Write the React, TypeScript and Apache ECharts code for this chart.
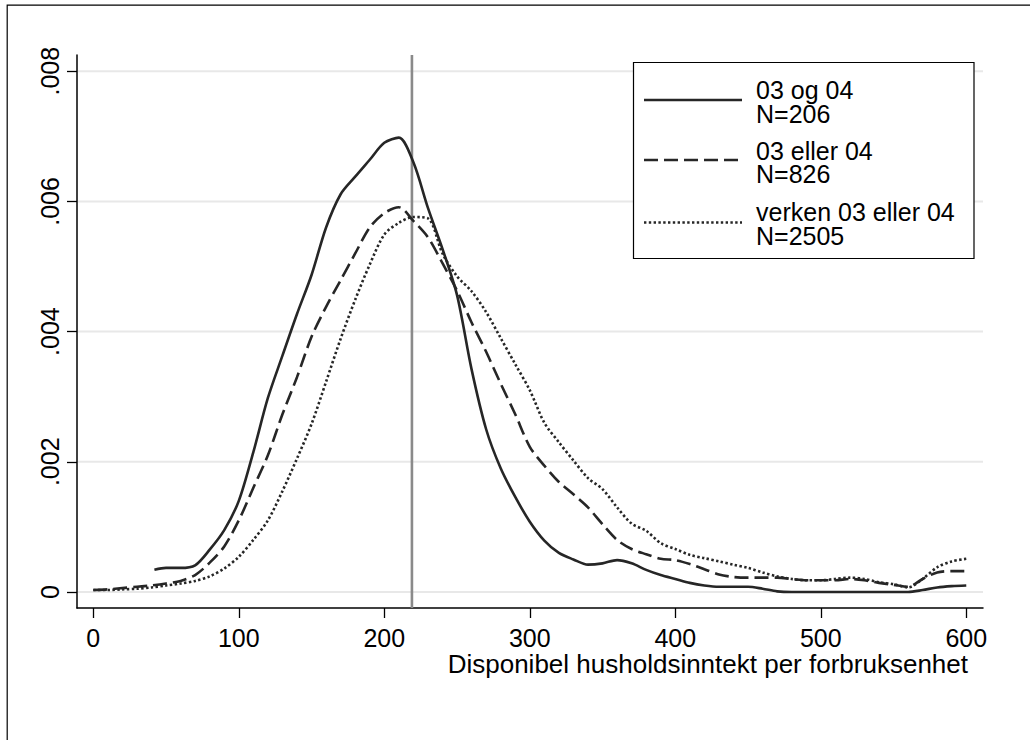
import React, { useEffect, useRef } from "react";
import * as echarts from "echarts";

// ---- data ----
const xGrid = [0,10,20,30,40,50,60,70,80,90,100,110,120,130,140,150,160,170,180,190,200,210,220,230,240,250,260,270,280,290,300,310,320,330,340,350,360,370,380,390,400,410,420,430,440,450,460,470,480,490,500,510,520,530,540,550,560,570,580,590,600];

const solidX = [42,50,60,70,80,90,100,110,120,130,140,150,160,170,180,190,200,210,220,230,240,250,260,270,280,290,300,310,320,330,340,350,360,370,380,390,400,410,420,430,440,450,460,470,480,490,500,510,520,530,540,550,560,570,580,590,600];
const solidY = [0.00034,0.00037,0.00037,0.00041,0.00065,0.00095,0.0014,0.00215,0.00298,0.00363,0.00427,0.00487,0.0056,0.00611,0.00638,0.00664,0.0069,0.00698,0.0066,0.0059,0.00527,0.00456,0.00342,0.0025,0.0019,0.00146,0.00108,0.00079,0.0006,0.0005,0.00042,0.00044,0.00049,0.00044,0.00034,0.00026,0.0002,0.00014,0.0001,0.00008,0.00008,0.00008,0.00005,0.00001,0,0,0,0,0,0,0,0,0,0.00003,0.00007,0.00009,0.0001];

const dashedY = [0.00003,0.00004,0.00006,0.00008,0.0001,0.00013,0.00017,0.00026,0.00045,0.0007,0.0011,0.0016,0.0021,0.00273,0.0033,0.00392,0.00438,0.00479,0.0052,0.0056,0.00582,0.00591,0.0057,0.00545,0.00505,0.00463,0.00414,0.00369,0.0032,0.00273,0.00223,0.00194,0.00169,0.0015,0.0013,0.00104,0.0008,0.00066,0.00058,0.00051,0.00049,0.00043,0.00035,0.00027,0.00023,0.00022,0.00022,0.00022,0.0002,0.00018,0.00018,0.00018,0.0002,0.00018,0.00014,0.00011,0.00008,0.0002,0.0003,0.00032,0.00032];

const dottedY = [0.00003,0.00003,0.00004,0.00005,0.00007,0.0001,0.00013,0.00017,0.00024,0.00036,0.00054,0.0008,0.0011,0.00155,0.00205,0.00258,0.00323,0.00389,0.00449,0.00503,0.00549,0.00567,0.00576,0.00574,0.0052,0.00485,0.00462,0.0043,0.0039,0.0035,0.0031,0.0026,0.0023,0.00202,0.00175,0.00158,0.0013,0.00105,0.00094,0.00075,0.00066,0.00057,0.00052,0.00047,0.00042,0.00037,0.0003,0.00024,0.0002,0.00018,0.00018,0.0002,0.00022,0.0002,0.00015,0.00012,0.00007,0.0002,0.00038,0.00047,0.00051];

const seriesNames = ["03 og 04", "03 eller 04", "verken 03 eller 04"];
const seriesN = ["N=206", "N=826", "N=2505"];
const xTicks = [0, 100, 200, 300, 400, 500, 600];
const yTicks = [0, 0.002, 0.004, 0.006, 0.008];
const refLineX = 219;
const xTitle = "Disponibel husholdsinntekt per forbruksenhet";

const FONT = "'Liberation Sans', Arial, Helvetica, sans-serif";
const INK = "#262626";
const X_MIN = -11.2;
const X_MAX = 611.5;
const Y_MIN = -0.000246;
const Y_MAX = 0.008249;

export default function App() {
  const ref = useRef<HTMLDivElement>(null);
  useEffect(() => {
    if (!ref.current) return;
    const chart = echarts.init(ref.current, null, { renderer: "svg" });
    const pairs = (xs: number[], ys: number[]) => xs.map((x, i) => [x, ys[i]]);
    const lineTypes: any[] = ["solid", [14, 6], [2.4, 2.4]];
    const legendRows = [
      { lineY: 100, textY: 102 },
      { lineY: 160, textY: 162.5 },
      { lineY: 222.5, textY: 223.8 },
    ];
    const graphics: any[] = [
      {
        type: "rect",
        silent: true,
        shape: { x: 7.2, y: 5.2, width: 1100, height: 1000 },
        style: { fill: "none", stroke: "#000", lineWidth: 1.2 },
      },
      {
        type: "rect",
        silent: true,
        shape: { x: 633.5, y: 62.5, width: 340.5, height: 196 },
        style: { fill: "#fff", stroke: "#000", lineWidth: 1.2 },
        z: 10,
      },
      {
        type: "text",
        silent: true,
        x: 968,
        y: 664,
        style: {
          text: xTitle,
          fill: "#000",
          fontSize: 26,
          fontFamily: FONT,
          align: "right",
          verticalAlign: "middle",
          textAlign: "right",
          textVerticalAlign: "middle",
        },
      },
    ];
    legendRows.forEach((r, i) => {
      graphics.push({
        type: "line",
        silent: true,
        z: 11,
        shape: { x1: 644, y1: r.lineY, x2: 742, y2: r.lineY },
        style: {
          stroke: INK,
          lineWidth: 2.6,
          lineDash: i === 0 ? null : lineTypes[i],
        },
      });
      graphics.push({
        type: "text",
        silent: true,
        z: 11,
        x: 756,
        y: r.textY,
        style: {
          text: seriesNames[i] + "\n" + seriesN[i],
          fill: "#000",
          fontSize: 25,
          lineHeight: 23.8,
          fontFamily: FONT,
          align: "left",
          verticalAlign: "middle",
          textAlign: "left",
          textVerticalAlign: "middle",
        },
      });
    });

    const dataSeries = [
      pairs(solidX, solidY),
      pairs(xGrid, dashedY),
      pairs(xGrid, dottedY),
    ].map((d, i) => ({
      type: "line",
      name: seriesNames[i],
      data: d,
      showSymbol: false,
      symbol: "none",
      smooth: 0.3,
      z: 3,
      silent: true,
      lineStyle: { color: INK, width: 2.6, type: lineTypes[i], cap: "butt" },
    }));

    const option: any = {
      animation: false,
      backgroundColor: "#fff",
      grid: { left: 77, top: 55, width: 906, height: 553, containLabel: false },
      xAxis: {
        type: "value",
        min: X_MIN,
        max: X_MAX,
        axisLine: { show: true, onZero: false, lineStyle: { color: "#000", width: 1.5 } },
        axisTick: { show: true, length: 10, customValues: xTicks, lineStyle: { color: "#000", width: 1.3 } },
        axisLabel: {
          customValues: xTicks,
          fontSize: 25,
          fontFamily: FONT,
          color: "#000",
          margin: 17,
        },
        splitLine: { show: false },
      },
      yAxis: {
        type: "value",
        min: Y_MIN,
        max: Y_MAX,
        axisLine: { show: true, onZero: false, lineStyle: { color: "#000", width: 1.5 } },
        axisTick: { show: true, length: 10, customValues: yTicks, lineStyle: { color: "#000", width: 1.3 } },
        axisLabel: {
          customValues: yTicks,
          rotate: 90,
          fontSize: 25,
          fontFamily: FONT,
          color: "#000",
          margin: 15,
          formatter: (v: number) => (Math.abs(v) < 1e-12 ? "0" : v.toFixed(3).replace(/^0\./, ".")),
        },
        splitLine: { show: false },
      },
      series: [
        {
          type: "custom",
          name: "grid",
          z: 1,
          silent: true,
          clip: false,
          data: yTicks.map((v) => [0, v]),
          renderItem: (params: any, api: any) => {
            const v = api.value(1);
            const p1 = api.coord([X_MIN, v]);
            const p2 = api.coord([X_MAX, v]);
            return {
              type: "line",
              shape: { x1: p1[0] + 1, y1: p1[1], x2: p2[0], y2: p2[1] },
              style: { stroke: "#e8e8e8", lineWidth: 2 },
            };
          },
        },
        {
          type: "custom",
          name: "ref",
          z: 2,
          silent: true,
          clip: false,
          data: [[refLineX, 0]],
          renderItem: (params: any, api: any) => {
            const x = api.value(0);
            const p1 = api.coord([x, Y_MIN]);
            const p2 = api.coord([x, Y_MAX]);
            return {
              type: "line",
              shape: { x1: p1[0], y1: p1[1], x2: p2[0], y2: p2[1] },
              style: { stroke: "#8a8a8a", lineWidth: 2.6 },
            };
          },
        },
        ...dataSeries,
      ],
      graphic: graphics,
    };
    chart.setOption(option);
    return () => chart.dispose();
  }, []);
  return (
    <div
      ref={ref}
      style={{ position: "fixed", left: 0, top: 0, width: 1030, height: 740, background: "#fff" }}
    />
  );
}
